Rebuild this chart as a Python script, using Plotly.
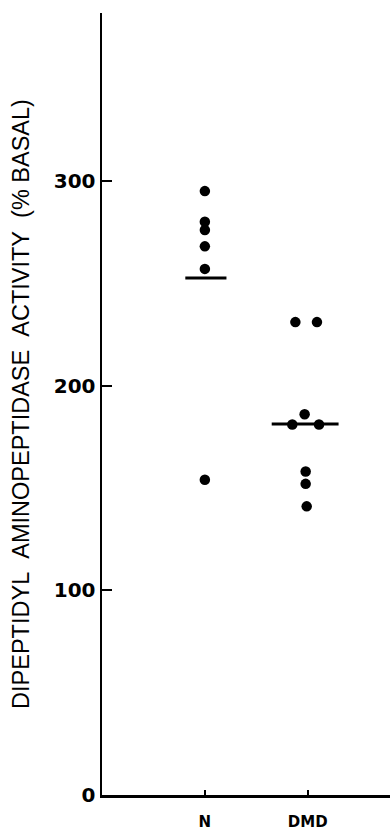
import plotly.graph_objects as go

# --- data ---
categories = ["N", "DMD"]
cat_pos = [1, 2]

n_values = [295, 280, 276, 268, 257, 154]
n_offsets = [0, 0, 0, 0, 0, 0]

dmd_values = [231, 231, 186, 181, 181, 158, 152, 141]
dmd_offsets = [-0.12, 0.09, -0.03, -0.15, 0.11, -0.02, -0.02, -0.01]

center_values = [252.6, 181.2]
center_half_left = [0.19, 0.35]
center_half_right = [0.21, 0.30]

y_tickvals = [0, 100, 200, 300]

fig = go.Figure()

fig.add_trace(go.Scatter(
    x=[cat_pos[0] + o for o in n_offsets], y=n_values, mode="markers",
    marker=dict(color="black", size=10.5), showlegend=False, hoverinfo="skip"))
fig.add_trace(go.Scatter(
    x=[cat_pos[1] + o for o in dmd_offsets], y=dmd_values, mode="markers",
    marker=dict(color="black", size=10.5), showlegend=False, hoverinfo="skip"))

for p, v, l, r in zip(cat_pos, center_values, center_half_left, center_half_right):
    fig.add_trace(go.Scatter(x=[p - l, p + r], y=[v, v], mode="lines",
                             line=dict(color="black", width=3), showlegend=False,
                             hoverinfo="skip"))

fig.update_layout(
    width=390, height=830,
    margin=dict(l=102, r=0, t=13, b=35, autoexpand=False),
    plot_bgcolor="white", paper_bgcolor="white",
    showlegend=False,
    dragmode=False,
)

fig.update_xaxes(
    range=[0, 2.8], tickvals=cat_pos, ticktext=categories,
    showline=True, linecolor="black", linewidth=2.5, mirror=False,
    ticks="inside", ticklen=5, tickwidth=2, tickcolor="black",
    showgrid=False, zeroline=False, showspikes=False,
    tickfont=dict(family="DejaVu Sans", size=15, color="black", weight="bold"),
    ticklabelstandoff=11,
)
fig.update_yaxes(
    range=[0, 382], tickvals=y_tickvals, ticktext=[str(v) for v in y_tickvals],
    showline=True, linecolor="black", linewidth=2.5, mirror=False,
    ticks="inside", ticklen=10, tickwidth=2, tickcolor="black",
    showgrid=False, zeroline=False, showspikes=False,
    tickfont=dict(family="DejaVu Sans", size=20, color="black", weight="bold"),
    title=dict(
        text="DIPEPTIDYL\u00a0\u00a0AMINOPEPTIDASE\u00a0\u00a0ACTIVITY\u00a0\u00a0(%\u00a0BASAL)",
        font=dict(family="Liberation Sans", size=23.5, color="black"),
        standoff=18,
    ),
)

# white strip masking a stray edge line along the right border of the plot area
fig.add_shape(type="rect", xref="paper", yref="paper", x0=0.985, x1=1.01, y0=0.006, y1=1.01,
              fillcolor="white", line=dict(width=0), layer="above")

fig.write_html(
    "out.html",
    config={"displayModeBar": False, "staticPlot": True},
    post_script="document.body.style.margin='0';document.body.style.overflow='hidden';",
)
